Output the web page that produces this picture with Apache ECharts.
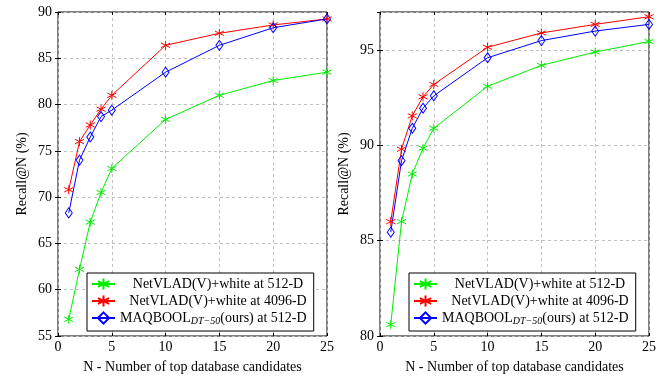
<!DOCTYPE html>
<html>
<head>
<meta charset="utf-8">
<script src="https://cdn.jsdelivr.net/npm/echarts@6/dist/echarts.min.js"></script>
<style>
  html, body { margin: 0; padding: 0; background: #fff; }
  #main { width: 663px; height: 379px; }
</style>
</head>
<body>
<div id="main"></div>
<script>
const candidates = [1, 2, 3, 4, 5, 10, 15, 20, 25]
const xTicks = [0, 5, 10, 15, 20, 25]
const leftTicks = [55, 60, 65, 70, 75, 80, 85, 90]
const rightTicks = [80, 85, 90, 95]

// left panel
const leftNetvlad512 = [56.8, 62.2, 67.3, 70.5, 73.1, 78.4, 81.0, 82.6, 83.5]
const leftNetvlad4096 = [70.8, 76.0, 77.8, 79.5, 81.0, 86.4, 87.7, 88.6, 89.25]
const leftMaqbool = [68.3, 74.0, 76.5, 78.7, 79.4, 83.5, 86.4, 88.3, 89.25]

// right panel
const rightNetvlad512 = [80.6, 86.0, 88.5, 89.85, 90.9, 93.1, 94.2, 94.9, 95.45]
const rightNetvlad4096 = [86.0, 89.8, 91.55, 92.55, 93.2, 95.15, 95.9, 96.35, 96.75]
const rightMaqbool = [85.45, 89.2, 90.9, 91.95, 92.6, 94.6, 95.5, 96.0, 96.35]

const names = [
  'NetVLAD(V)+white at 512-D',
  'NetVLAD(V)+white at 4096-D',
  'MAQBOOL(ours) at 512-D'
]

const font = 'Liberation Serif'
const asterisk = 'path://M10,0L10,20M1.34,5L18.66,15M1.34,15L18.66,5'

const pair = (ys) => candidates.map((x, i) => [x, ys[i]])

const mkSeries = (xi, yi, data, idx) => {
  const colors = ['#00ee00', '#ff0000', '#0000ff']
  const c = colors[idx]
  return {
    name: names[idx],
    type: 'line',
    xAxisIndex: xi,
    yAxisIndex: yi,
    data: pair(data),
    symbol: idx === 2 ? 'diamond' : asterisk,
    symbolSize: idx === 2 ? [7, 10] : 9,
    showAllSymbol: true,
    lineStyle: { color: c, width: 1 },
    itemStyle: { color: 'rgba(0,0,0,0)', borderColor: c, borderWidth: 1 },
    emphasis: { disabled: true },
    animation: false
  }
}

const xAx = (gi, pos) => ({
  type: 'value', gridIndex: gi, position: pos, min: 0, max: 25, interval: 5,
  axisLine: { show: false },
  axisTick: { show: true, inside: true, length: 3, lineStyle: { color: '#000' } },
  axisLabel: { show: pos === 'bottom', color: '#000', fontFamily: font, fontSize: 14, margin: 4 },
  splitLine: { show: pos === 'bottom', lineStyle: { color: '#c0c0c0', type: [3, 3] } },
  name: pos === 'bottom' ? 'N - Number of top database candidates' : '',
  nameLocation: 'middle', nameGap: 24,
  nameTextStyle: { color: '#000', fontFamily: font, fontSize: 14 }
})

const yAx = (gi, pos, min, max) => ({
  type: 'value', gridIndex: gi, position: pos, min: min, max: max, interval: 5,
  axisLine: { show: false },
  axisTick: { show: true, inside: true, length: 3, lineStyle: { color: '#000' } },
  axisLabel: { show: pos === 'left', color: '#000', fontFamily: font, fontSize: 14, margin: 6, showMaxLabel: max % 5 === 0 },
  splitLine: { show: pos === 'left', lineStyle: { color: '#c0c0c0', type: [3, 3] } },
  name: pos === 'left' ? 'Recall@N (%)' : '',
  nameLocation: 'middle', nameGap: 29,
  nameTextStyle: { color: '#000', fontFamily: font, fontSize: 14 }
})

const legend = (left, top, series) => ({
  left: left, top: top, orient: 'vertical',
  data: series,
  backgroundColor: '#fff',
  borderColor: '#000', borderWidth: 1,
  padding: [4, 7, 5, 4],
  itemWidth: 23, itemHeight: 14, itemGap: 3,
  textStyle: {
    fontFamily: font, fontSize: 14, color: '#000',
    rich: {
      c: { fontFamily: font, fontSize: 14, width: 196, align: 'center' },
      a: { fontFamily: font, fontSize: 14 },
      s: { fontFamily: font, fontSize: 10, fontStyle: 'italic', padding: [6, 0, 0, 0] }
    }
  },
  formatter: (n) => n.startsWith('MAQBOOL')
    ? '{a|MAQBOOL}{s|DT\u221250}{a|(ours) at 512-D}'
    : '{c|' + n + '}'
})

const chart = echarts.init(document.getElementById('main'))
chart.setOption({
  backgroundColor: '#fff',
  animation: false,
  grid: [
    { left: 58, top: 12, width: 269, height: 328, show: true, borderColor: '#000', borderWidth: 1, backgroundColor: 'transparent' },
    { left: 380, top: 12, width: 269, height: 327, show: true, borderColor: '#000', borderWidth: 1, backgroundColor: 'transparent' }
  ],
  xAxis: [xAx(0, 'bottom'), xAx(0, 'top'), xAx(1, 'bottom'), xAx(1, 'top')],
  yAxis: [
    yAx(0, 'left', leftTicks[0], leftTicks[leftTicks.length - 1]),
    yAx(0, 'right', leftTicks[0], leftTicks[leftTicks.length - 1]),
    yAx(1, 'left', rightTicks[0], 97),
    yAx(1, 'right', rightTicks[0], 97)
  ],
  legend: [legend(87, 273, names), legend(409, 273, names)],
  series: [
    mkSeries(0, 0, leftNetvlad512, 0),
    mkSeries(0, 0, leftNetvlad4096, 1),
    mkSeries(0, 0, leftMaqbool, 2),
    mkSeries(2, 2, rightNetvlad512, 0),
    mkSeries(2, 2, rightNetvlad4096, 1),
    mkSeries(2, 2, rightMaqbool, 2)
  ]
})
</script>
</body>
</html>
